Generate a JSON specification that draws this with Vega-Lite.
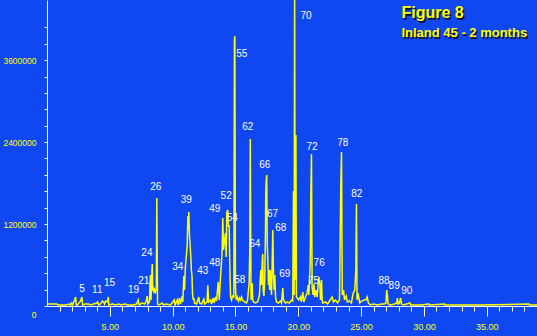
{
  "$schema": "https://vega.github.io/schema/vega-lite/v6.json",
  "width": 490,
  "height": 306,
  "autosize": "none",
  "padding": {"left": 47, "top": 0, "right": 0, "bottom": 30},
  "background": "#0F48F0",
  "config": {"view": {"stroke": null}},
  "datasets": {
    "trace": [
      {"t":0.05,"v":29000},{"t":0.29,"v":29000},{"t":0.76,"v":29000},{"t":0.92,"v":15000},{"t":1.48,"v":15000},
      {"t":1.80,"v":29000},{"t":1.88,"v":15000},{"t":1.96,"v":44000},{"t":2.04,"v":15000},{"t":2.12,"v":59000},
      {"t":2.20,"v":88000},{"t":2.28,"v":132000},{"t":2.33,"v":15000},{"t":2.43,"v":15000},{"t":2.67,"v":73000},
      {"t":2.78,"v":132000},{"t":2.83,"v":15000},{"t":3.07,"v":29000},{"t":3.31,"v":29000},{"t":3.47,"v":15000},
      {"t":3.71,"v":29000},{"t":3.95,"v":44000},{"t":4.03,"v":59000},{"t":4.10,"v":15000},{"t":4.26,"v":29000},
      {"t":4.40,"v":73000},{"t":4.50,"v":59000},{"t":4.58,"v":29000},{"t":4.66,"v":73000},{"t":4.82,"v":59000},
      {"t":4.88,"v":132000},{"t":4.92,"v":15000},{"t":5.22,"v":29000},{"t":5.46,"v":15000},{"t":5.70,"v":29000},
      {"t":5.93,"v":15000},{"t":6.17,"v":29000},{"t":6.49,"v":15000},{"t":6.89,"v":15000},{"t":7.13,"v":29000},
      {"t":7.26,"v":88000},{"t":7.33,"v":15000},{"t":7.45,"v":29000},{"t":7.61,"v":44000},{"t":7.77,"v":29000},
      {"t":7.88,"v":59000},{"t":7.98,"v":146000},{"t":8.03,"v":29000},{"t":8.08,"v":44000},{"t":8.16,"v":59000},
      {"t":8.20,"v":322000},{"t":8.24,"v":454000},{"t":8.28,"v":88000},{"t":8.32,"v":381000},{"t":8.38,"v":615000},
      {"t":8.42,"v":220000},{"t":8.48,"v":249000},{"t":8.53,"v":190000},{"t":8.58,"v":234000},{"t":8.64,"v":205000},
      {"t":8.70,"v":249000},{"t":8.74,"v":1581000},{"t":8.80,"v":29000},{"t":8.88,"v":15000},{"t":9.04,"v":29000},
      {"t":9.17,"v":44000},{"t":9.28,"v":15000},{"t":9.51,"v":29000},{"t":9.83,"v":15000},{"t":10.13,"v":88000},
      {"t":10.19,"v":15000},{"t":10.37,"v":88000},{"t":10.43,"v":15000},{"t":10.55,"v":117000},{"t":10.63,"v":29000},
      {"t":10.76,"v":146000},{"t":10.81,"v":59000},{"t":10.89,"v":439000},{"t":10.95,"v":234000},{"t":11.00,"v":527000},
      {"t":11.05,"v":644000},{"t":11.11,"v":776000},{"t":11.16,"v":893000},{"t":11.21,"v":1318000},{"t":11.25,"v":1113000},
      {"t":11.29,"v":1376000},{"t":11.34,"v":1025000},{"t":11.40,"v":864000},{"t":11.45,"v":717000},{"t":11.49,"v":527000},
      {"t":11.54,"v":439000},{"t":11.58,"v":190000},{"t":11.64,"v":88000},{"t":11.69,"v":117000},{"t":11.74,"v":44000},
      {"t":11.90,"v":29000},{"t":12.08,"v":132000},{"t":12.14,"v":44000},{"t":12.30,"v":29000},{"t":12.48,"v":102000},
      {"t":12.54,"v":29000},{"t":12.74,"v":59000},{"t":12.80,"v":307000},{"t":12.86,"v":59000},{"t":13.02,"v":88000},
      {"t":13.09,"v":29000},{"t":13.23,"v":117000},{"t":13.29,"v":44000},{"t":13.41,"v":132000},{"t":13.49,"v":73000},
      {"t":13.63,"v":351000},{"t":13.71,"v":88000},{"t":13.81,"v":425000},{"t":13.89,"v":644000},{"t":13.95,"v":864000},
      {"t":13.99,"v":1288000},{"t":14.05,"v":820000},{"t":14.13,"v":966000},{"t":14.21,"v":1069000},{"t":14.26,"v":717000},
      {"t":14.31,"v":1362000},{"t":14.39,"v":1406000},{"t":14.44,"v":1157000},{"t":14.50,"v":1186000},{"t":14.55,"v":571000},
      {"t":14.61,"v":132000},{"t":14.69,"v":88000},{"t":14.77,"v":146000},{"t":14.87,"v":132000},{"t":14.92,"v":3895000},
      {"t":14.95,"v":3953000},{"t":15.00,"v":278000},{"t":15.06,"v":88000},{"t":15.14,"v":132000},{"t":15.24,"v":73000},
      {"t":15.32,"v":117000},{"t":15.40,"v":88000},{"t":15.48,"v":132000},{"t":15.56,"v":88000},{"t":15.72,"v":59000},
      {"t":15.88,"v":44000},{"t":15.96,"v":88000},{"t":16.09,"v":337000},{"t":16.14,"v":820000},{"t":16.18,"v":2445000},
      {"t":16.24,"v":88000},{"t":16.33,"v":337000},{"t":16.38,"v":88000},{"t":16.44,"v":59000},{"t":16.60,"v":44000},
      {"t":16.75,"v":59000},{"t":16.83,"v":102000},{"t":16.91,"v":161000},{"t":16.97,"v":381000},{"t":17.02,"v":527000},
      {"t":17.07,"v":307000},{"t":17.13,"v":644000},{"t":17.17,"v":761000},{"t":17.21,"v":234000},{"t":17.26,"v":146000},
      {"t":17.33,"v":381000},{"t":17.39,"v":1113000},{"t":17.41,"v":1654000},{"t":17.45,"v":1845000},{"t":17.49,"v":1918000},
      {"t":17.53,"v":893000},{"t":17.58,"v":673000},{"t":17.63,"v":307000},{"t":17.68,"v":527000},{"t":17.72,"v":234000},
      {"t":17.77,"v":527000},{"t":17.82,"v":337000},{"t":17.87,"v":161000},{"t":17.92,"v":600000},{"t":17.97,"v":1113000},
      {"t":18.03,"v":439000},{"t":18.08,"v":234000},{"t":18.13,"v":454000},{"t":18.19,"v":132000},{"t":18.27,"v":59000},
      {"t":18.42,"v":44000},{"t":18.58,"v":73000},{"t":18.66,"v":44000},{"t":18.77,"v":264000},{"t":18.82,"v":88000},
      {"t":18.98,"v":44000},{"t":19.14,"v":59000},{"t":19.30,"v":44000},{"t":19.46,"v":88000},{"t":19.56,"v":73000},
      {"t":19.62,"v":1684000},{"t":19.67,"v":161000},{"t":19.71,"v":4620000},{"t":19.75,"v":381000},{"t":19.81,"v":2504000},
      {"t":19.85,"v":132000},{"t":20.04,"v":88000},{"t":20.17,"v":132000},{"t":20.25,"v":59000},{"t":20.36,"v":205000},
      {"t":20.44,"v":59000},{"t":20.57,"v":132000},{"t":20.71,"v":190000},{"t":20.79,"v":307000},{"t":20.84,"v":161000},
      {"t":20.89,"v":381000},{"t":20.95,"v":630000},{"t":21.00,"v":1640000},{"t":21.05,"v":2225000},{"t":21.10,"v":278000},
      {"t":21.18,"v":161000},{"t":21.25,"v":322000},{"t":21.31,"v":132000},{"t":21.39,"v":234000},{"t":21.50,"v":132000},
      {"t":21.63,"v":425000},{"t":21.71,"v":337000},{"t":21.77,"v":88000},{"t":21.85,"v":381000},{"t":21.90,"v":88000},
      {"t":21.95,"v":44000},{"t":22.17,"v":59000},{"t":22.33,"v":29000},{"t":22.48,"v":73000},{"t":22.70,"v":132000},
      {"t":22.80,"v":59000},{"t":22.96,"v":88000},{"t":23.12,"v":44000},{"t":23.28,"v":88000},{"t":23.38,"v":1713000},
      {"t":23.44,"v":2255000},{"t":23.50,"v":161000},{"t":23.60,"v":234000},{"t":23.68,"v":88000},{"t":23.81,"v":146000},
      {"t":23.91,"v":59000},{"t":24.07,"v":73000},{"t":24.23,"v":44000},{"t":24.37,"v":190000},{"t":24.50,"v":234000},
      {"t":24.58,"v":542000},{"t":24.63,"v":1493000},{"t":24.68,"v":88000},{"t":24.75,"v":190000},{"t":24.89,"v":44000},
      {"t":25.03,"v":73000},{"t":25.24,"v":88000},{"t":25.37,"v":88000},{"t":25.48,"v":132000},{"t":25.58,"v":44000},
      {"t":25.74,"v":15000},{"t":25.98,"v":29000},{"t":26.30,"v":15000},{"t":26.62,"v":29000},{"t":26.86,"v":29000},
      {"t":26.98,"v":44000},{"t":27.04,"v":234000},{"t":27.10,"v":146000},{"t":27.15,"v":29000},{"t":27.34,"v":15000},
      {"t":27.66,"v":29000},{"t":27.84,"v":44000},{"t":27.89,"v":117000},{"t":27.95,"v":29000},{"t":28.05,"v":44000},
      {"t":28.15,"v":117000},{"t":28.21,"v":29000},{"t":28.37,"v":15000},{"t":28.90,"v":44000},{"t":28.95,"v":15000},
      {"t":29.72,"v":15000},{"t":30.41,"v":29000},{"t":30.46,"v":15000},{"t":31.63,"v":29000},{"t":31.68,"v":15000},
      {"t":34.49,"v":15000},{"t":38.37,"v":29000},{"t":38.42,"v":15000},{"t":39.0,"v":15000}
    ],
    "labels": [
      {"t":2.78,"v":249000,"label":"5"},{"t":4.00,"v":239000,"label":"11"},{"t":4.98,"v":332000,"label":"15"},
      {"t":6.89,"v":230000,"label":"19"},{"t":7.71,"v":373000,"label":"21"},{"t":7.95,"v":780000,"label":"24"},
      {"t":8.66,"v":1738000,"label":"26"},{"t":10.41,"v":575000,"label":"34"},{"t":11.08,"v":1545000,"label":"39"},
      {"t":12.40,"v":508000,"label":"43"},{"t":13.36,"v":625000,"label":"48"},{"t":13.36,"v":1413000,"label":"49"},
      {"t":14.26,"v":1615000,"label":"52"},{"t":14.74,"v":1293000,"label":"54"},{"t":15.51,"v":3685000,"label":"55"},
      {"t":15.35,"v":381000,"label":"58"},{"t":15.98,"v":2616000,"label":"62"},{"t":16.54,"v":912000,"label":"64"},
      {"t":17.33,"v":2060000,"label":"66"},{"t":17.95,"v":1340000,"label":"67"},{"t":18.61,"v":1146000,"label":"68"},
      {"t":18.93,"v":464000,"label":"69"},{"t":20.61,"v":4243000,"label":"70"},{"t":21.09,"v":2328000,"label":"72"},
      {"t":21.21,"v":366000,"label":"75"},{"t":21.66,"v":625000,"label":"76"},{"t":23.54,"v":2391000,"label":"78"},
      {"t":24.65,"v":1635000,"label":"82"},{"t":26.83,"v":373000,"label":"88"},{"t":27.63,"v":288000,"label":"89"},
      {"t":28.63,"v":215000,"label":"90"}
    ],
    "titles": [
      {"t":28.21,"v":4212000,"text":"Figure 8","size":16},
      {"t":28.21,"v":3934000,"text":"Inland 45 - 2 months","size":13}
    ]
  },
  "encoding": {
    "x": {
      "field": "t", "type": "quantitative",
      "scale": {"domain": [0, 39], "nice": false, "zero": false},
      "axis": {
        "title": null,
        "values": [1,2,3,4,5,6,7,8,9,10,11,12,13,14,15,16,17,18,19,20,21,22,23,24,25,26,27,28,29,30,31,32,33,34,35,36,37,38],
        "labelExpr": "datum.value % 5 === 0 ? format(datum.value, '.2f') : ''",
        "tickSize": {"condition": {"test": "datum.value % 5 === 0", "value": 10}, "value": 5},
        "tickColor": "#FFFFFF",
        "tickWidth": 1,
        "domainColor": "#FFFFFF",
        "domainWidth": 1,
        "grid": false,
        "labelColor": "#FFFF00",
        "labelFont": "Liberation Sans",
        "labelFontSize": 9,
        "labelPadding": 6,
        "labelFlush": false,
        "labelOverlap": false
      }
    },
    "y": {
      "field": "v", "type": "quantitative",
      "scale": {"domain": [0, 4480000], "nice": false},
      "axis": {
        "title": null,
        "values": [0,240000,480000,720000,960000,1200000,1440000,1680000,1920000,2160000,2400000,2640000,2880000,3120000,3360000,3600000,3840000,4080000],
        "format": "d",
        "labelExpr": "datum.value % 1200000 === 0 ? datum.label : ''",
        "labelOffset": {"condition": {"test": "datum.value === 0", "value": 8}, "value": 0},
        "tickSize": 3,
        "tickColor": "#FFFFFF",
        "domainColor": "#FFFFFF",
        "grid": false,
        "labelColor": "#FFFF00",
        "labelFont": "Liberation Sans",
        "labelFontSize": 8.5,
        "labelPadding": 8,
        "labelFlush": false,
        "labelOverlap": false
      }
    }
  },
  "layer": [
    {
      "data": {"name": "trace"},
      "mark": {"type": "line", "color": "#FFFF00", "strokeWidth": 1.5, "clip": true}
    },
    {
      "data": {"name": "labels"},
      "mark": {"type": "text", "color": "#FFFFFF", "font": "Liberation Sans", "fontSize": 10, "align": "center", "baseline": "middle"},
      "encoding": {"text": {"field": "label"}}
    },
    {
      "data": {"name": "titles"},
      "mark": {"type": "text", "color": "#0A1030", "font": "Liberation Sans", "fontWeight": "bold", "align": "left", "baseline": "alphabetic", "dx": 1.5, "dy": 1.5},
      "encoding": {"text": {"field": "text"}, "size": {"field": "size", "type": "quantitative", "scale": null}}
    },
    {
      "data": {"name": "titles"},
      "mark": {"type": "text", "color": "#FFFF00", "font": "Liberation Sans", "fontWeight": "bold", "align": "left", "baseline": "alphabetic"},
      "encoding": {"text": {"field": "text"}, "size": {"field": "size", "type": "quantitative", "scale": null}}
    }
  ]
}
